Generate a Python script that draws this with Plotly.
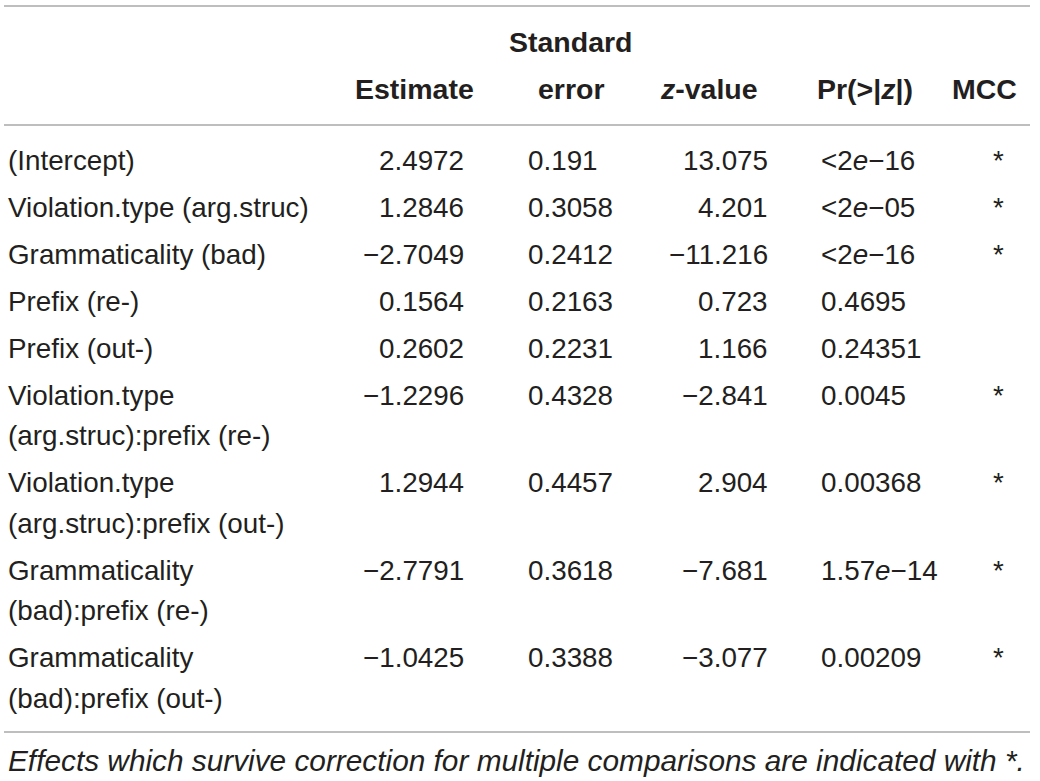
import plotly.graph_objects as go

# ---- data ----
terms = [
    "(Intercept)",
    "Violation.type (arg.struc)",
    "Grammaticality (bad)",
    "Prefix (re-)",
    "Prefix (out-)",
    "Violation.type<br>(arg.struc):prefix (re-)",
    "Violation.type<br>(arg.struc):prefix (out-)",
    "Grammaticality<br>(bad):prefix (re-)",
    "Grammaticality<br>(bad):prefix (out-)",
]
estimate = ["2.4972", "1.2846", "−2.7049", "0.1564", "0.2602",
            "−1.2296", "1.2944", "−2.7791", "−1.0425"]
std_error = ["0.191", "0.3058", "0.2412", "0.2163", "0.2231",
             "0.4328", "0.4457", "0.3618", "0.3388"]
z_value = ["13.075", "4.201", "−11.216", "0.723", "1.166",
           "−2.841", "2.904", "−7.681", "−3.077"]
p_value = ["&lt;2<i>e</i>−16", "&lt;2<i>e</i>−05", "&lt;2<i>e</i>−16", "0.4695", "0.24351",
           "0.0045", "0.00368", "1.57<i>e</i>−14", "0.00209"]
mcc = ["*", "*", "*", "", "", "*", "*", "*", "*"]
header_top = ["", "", "Standard", "", "", ""]
header_bottom = ["", "Estimate", "error", "<i>z</i>-value", "Pr(&gt;|<i>z</i>|)", "MCC"]
footnote = "Effects which survive correction for multiple comparisons are indicated with *."

# ---- styling / layout ----
W, H = 1040, 781
FONT = "Liberation Sans, Arial, Helvetica, sans-serif"
FS = 27.8
FS_HEAD = 28.5
FS_NOTE = 29.8
TXT = "#231f20"
LINE = "#a8a8a8"

# column anchors: (x, anchor) for body and header
col_body = [(6, "left"), (466, "right"), (526, "left"), (770, "right"), (819, "left"), (998, "center")]
col_head = [(6, "left"), (414, "center"), (571, "center"), (709, "center"), (865, "center"), (984, "center")]

fig = go.Figure()
fig.add_trace(go.Scatter(x=[0, W], y=[0, H], mode="markers",
                         marker=dict(opacity=0), hoverinfo="skip", showlegend=False))

ann = []

def add_text(x, y, text, anchor, bold=False, italic=False, size=FS):
    t = text
    if italic:
        t = "<i>" + t + "</i>"
    if bold:
        t = "<b>" + t + "</b>"
    ann.append(dict(x=x, y=y, xref="x", yref="y", text=t, showarrow=False,
                    xanchor=anchor, yanchor="middle",
                    font=dict(family=FONT, size=size, color=TXT)))

# header
for (x, a), t in zip(col_head, header_top):
    if t:
        add_text(x, 42, t, a, bold=True, size=FS_HEAD)
for (x, a), t in zip(col_head, header_bottom):
    if t:
        add_text(x, 89, t, a, bold=True, size=FS_HEAD)

# body rows
first_y = 160
row_gap = 47
line_gap = 40.5
y = first_y
for i, term in enumerate(terms):
    lines = term.split("<br>")
    for k, ln in enumerate(lines):
        add_text(col_body[0][0], y + k * line_gap, ln, col_body[0][1])
    vals = [estimate[i], std_error[i], z_value[i], p_value[i], mcc[i]]
    for (x, a), v in zip(col_body[1:], vals):
        if v:
            add_text(x, y, v, a)
    y = y + (len(lines) - 1) * line_gap + row_gap

add_text(6, 760, footnote, "left", italic=True, size=FS_NOTE)

shapes = []
for ly in [6, 125, 732]:
    shapes.append(dict(type="line", xref="x", yref="y", x0=4, x1=1030, y0=ly, y1=ly,
                       line=dict(color=LINE, width=1.5)))

fig.update_layout(
    width=W, height=H,
    margin=dict(l=0, r=0, t=0, b=0),
    paper_bgcolor="white", plot_bgcolor="white",
    xaxis=dict(range=[0, W], visible=False, fixedrange=True),
    yaxis=dict(range=[H, 0], visible=False, fixedrange=True),
    annotations=ann, shapes=shapes, showlegend=False,
)

fig.write_html(
    "out.html",
    config={"displayModeBar": False},
    post_script="document.body.style.margin='0';document.body.style.padding='0';document.body.style.overflow='hidden';",
)
